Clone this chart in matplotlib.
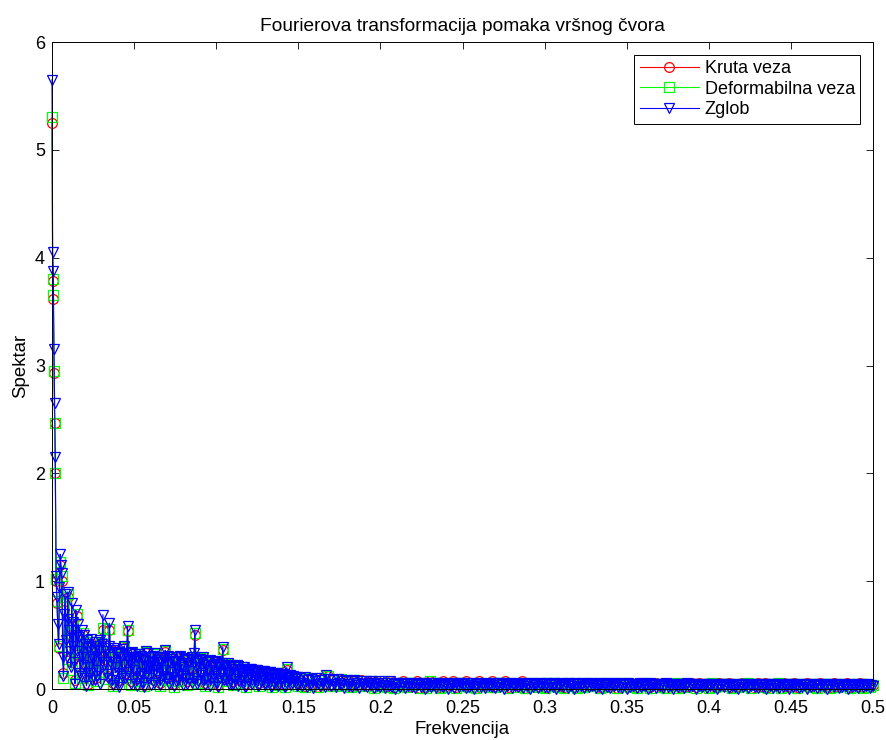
import numpy as np
import matplotlib
matplotlib.use("Agg")
import matplotlib.pyplot as plt

plt.rcParams['font.family'] = ['Liberation Sans', 'DejaVu Sans']

title = "Fourierova transformacija pomaka vršnog čvora"
xlabel = "Frekvencija"
ylabel = "Spektar"
labels = ["Kruta veza", "Deformabilna veza", "Zglob"]
xticks = [0, 0.05, 0.1, 0.15, 0.2, 0.25, 0.3, 0.35, 0.4, 0.45, 0.5]
xticklabels = ["0", "0.05", "0.1", "0.15", "0.2", "0.25", "0.3", "0.35", "0.4", "0.45", "0.5"]
yticks = [0, 1, 2, 3, 4, 5, 6]

# frequency grids (x axis)
f_spike = [0.0, 0.0004, 0.0008, 0.0012, 0.0016, 0.0020, 0.0025]
f_mid = np.linspace(0.003, 0.150, 148)
f_tail = np.linspace(0.152, 0.500, 175)
f_mid_blue = np.linspace(0.003, 0.150, 295)
f_tail_blue = np.linspace(0.151, 0.500, 350)

# spectrum values
blue_spike = [5.65, 4.05, 3.88, 3.15, 2.65, 2.15, 1.05]
red_spike = [5.25, 3.78, 3.62, 2.93, 2.47, 2.00, 1.00]
green_spike = [5.30, 3.80, 3.65, 2.95, 2.47, 2.00, 1.02]

blue_mid = [
    0.85, 0.60, 0.42, 0.95, 1.25, 1.15, 1.08, 0.30, 0.12, 0.70,
    0.88, 0.45, 0.30, 0.90, 0.65, 0.55, 0.35, 0.20, 0.80, 0.40,
    0.62, 0.25, 0.05, 0.73, 0.50, 0.35, 0.60, 0.48, 0.15, 0.12,
    0.55, 0.30, 0.22, 0.50, 0.42, 0.10, 0.03, 0.45, 0.38, 0.20,
    0.15, 0.40, 0.46, 0.08, 0.28, 0.35, 0.08, 0.44, 0.40, 0.12,
    0.18, 0.36, 0.45, 0.05, 0.30, 0.42, 0.69, 0.22, 0.25, 0.38,
    0.35, 0.14, 0.10, 0.40, 0.61, 0.25, 0.30, 0.08, 0.04, 0.36,
    0.38, 0.15, 0.20, 0.34, 0.33, 0.02, 0.06, 0.32, 0.30, 0.12,
    0.22, 0.37, 0.40, 0.10, 0.12, 0.30, 0.58, 0.16, 0.26, 0.33,
    0.05, 0.28, 0.34, 0.10, 0.18, 0.32, 0.30, 0.03, 0.08, 0.29,
    0.32, 0.12, 0.15, 0.31, 0.28, 0.06, 0.02, 0.27, 0.35, 0.14,
    0.20, 0.33, 0.10, 0.22, 0.30, 0.04, 0.24, 0.31, 0.06, 0.18,
    0.33, 0.20, 0.14, 0.30, 0.27, 0.08, 0.04, 0.25, 0.30, 0.12,
    0.18, 0.29, 0.36, 0.10, 0.09, 0.31, 0.25, 0.05, 0.16, 0.28,
    0.30, 0.11, 0.03, 0.26, 0.26, 0.07, 0.19, 0.30, 0.08, 0.14,
    0.31, 0.20, 0.22, 0.04, 0.12, 0.29, 0.28, 0.10, 0.05, 0.27,
    0.24, 0.09, 0.17, 0.28, 0.30, 0.06, 0.10, 0.33, 0.55, 0.20,
    0.26, 0.05, 0.07, 0.24, 0.28, 0.13, 0.15, 0.27, 0.30, 0.08,
    0.04, 0.22, 0.25, 0.10, 0.18, 0.26, 0.27, 0.03, 0.09, 0.21,
    0.22, 0.12, 0.14, 0.25, 0.26, 0.06, 0.02, 0.20, 0.23, 0.10,
    0.16, 0.24, 0.39, 0.08, 0.20, 0.22, 0.08, 0.15, 0.24, 0.05,
    0.13, 0.21, 0.22, 0.04, 0.05, 0.19, 0.20, 0.09, 0.15, 0.22,
    0.21, 0.03, 0.07, 0.18, 0.19, 0.10, 0.12, 0.20, 0.20, 0.02,
    0.03, 0.17, 0.18, 0.08, 0.14, 0.19, 0.19, 0.05, 0.08, 0.16,
    0.17, 0.09, 0.11, 0.18, 0.18, 0.03, 0.04, 0.15, 0.16, 0.07,
    0.12, 0.17, 0.17, 0.04, 0.06, 0.14, 0.15, 0.08, 0.10, 0.16,
    0.16, 0.02, 0.03, 0.13, 0.14, 0.06, 0.09, 0.15, 0.15, 0.03,
    0.05, 0.12, 0.13, 0.07, 0.10, 0.14, 0.14, 0.03, 0.02, 0.12,
    0.20, 0.10, 0.11, 0.13, 0.13, 0.04, 0.06, 0.11, 0.12, 0.07,
    0.09, 0.11, 0.11, 0.03, 0.04,
]
red_mid = [
    0.80, 0.38, 1.15, 1.00, 0.15, 0.82, 0.35, 0.85, 0.50, 0.25,
    0.58, 0.08, 0.68, 0.32, 0.45, 0.15, 0.50, 0.25, 0.40, 0.05,
    0.35, 0.18, 0.42, 0.25, 0.10, 0.38, 0.20, 0.42, 0.55, 0.28,
    0.32, 0.12, 0.55, 0.28, 0.06, 0.35, 0.22, 0.30, 0.08, 0.28,
    0.20, 0.38, 0.15, 0.54, 0.24, 0.07, 0.32, 0.20, 0.28, 0.10,
    0.30, 0.17, 0.26, 0.04, 0.33, 0.18, 0.12, 0.28, 0.22, 0.08,
    0.31, 0.16, 0.25, 0.06, 0.28, 0.20, 0.34, 0.11, 0.23, 0.18,
    0.28, 0.05, 0.24, 0.21, 0.10, 0.29, 0.20, 0.14, 0.26, 0.07,
    0.22, 0.19, 0.28, 0.12, 0.50, 0.24, 0.09, 0.26, 0.17, 0.28,
    0.06, 0.23, 0.20, 0.25, 0.11, 0.20, 0.16, 0.24, 0.04, 0.21,
    0.18, 0.36, 0.18, 0.10, 0.22, 0.15, 0.20, 0.07, 0.19, 0.16,
    0.19, 0.09, 0.18, 0.13, 0.19, 0.05, 0.17, 0.15, 0.18, 0.10,
    0.16, 0.12, 0.17, 0.06, 0.15, 0.13, 0.16, 0.08, 0.14, 0.11,
    0.15, 0.05, 0.13, 0.10, 0.14, 0.07, 0.12, 0.11, 0.13, 0.04,
    0.18, 0.12, 0.12, 0.08, 0.11, 0.10, 0.10, 0.06,
]
green_mid = [
    0.82, 0.40, 1.18, 1.05, 0.10, 0.85, 0.28, 0.88, 0.52, 0.18,
    0.60, 0.06, 0.70, 0.33, 0.46, 0.10, 0.52, 0.20, 0.41, 0.04,
    0.36, 0.14, 0.44, 0.26, 0.07, 0.39, 0.16, 0.43, 0.57, 0.23,
    0.33, 0.09, 0.56, 0.29, 0.03, 0.36, 0.18, 0.31, 0.05, 0.29,
    0.21, 0.39, 0.11, 0.55, 0.25, 0.04, 0.33, 0.17, 0.29, 0.07,
    0.31, 0.14, 0.27, 0.03, 0.34, 0.19, 0.09, 0.29, 0.23, 0.05,
    0.32, 0.13, 0.26, 0.03, 0.29, 0.17, 0.35, 0.08, 0.24, 0.15,
    0.29, 0.02, 0.25, 0.18, 0.07, 0.30, 0.21, 0.11, 0.27, 0.04,
    0.23, 0.16, 0.29, 0.09, 0.52, 0.25, 0.06, 0.27, 0.14, 0.29,
    0.03, 0.24, 0.17, 0.26, 0.08, 0.21, 0.13, 0.25, 0.02, 0.22,
    0.15, 0.37, 0.19, 0.07, 0.23, 0.12, 0.21, 0.04, 0.19, 0.14,
    0.20, 0.06, 0.18, 0.11, 0.19, 0.02, 0.17, 0.13, 0.18, 0.07,
    0.16, 0.10, 0.17, 0.03, 0.15, 0.11, 0.16, 0.05, 0.14, 0.09,
    0.15, 0.02, 0.13, 0.08, 0.14, 0.04, 0.12, 0.09, 0.13, 0.02,
    0.19, 0.10, 0.12, 0.05, 0.11, 0.08, 0.10, 0.03,
]

blue_tail = [
    0.10, 0.03, 0.06, 0.11, 0.02, 0.08, 0.04, 0.09, 0.01, 0.07,
    0.10, 0.05, 0.03, 0.08, 0.06, 0.02, 0.13, 0.04, 0.09, 0.03,
    0.08, 0.05, 0.02, 0.09, 0.06, 0.04, 0.07, 0.01, 0.08, 0.05,
    0.03, 0.07, 0.02, 0.08, 0.04, 0.06, 0.01, 0.07, 0.05, 0.03,
    0.07, 0.02, 0.06, 0.04, 0.07, 0.01, 0.05, 0.03, 0.07, 0.02,
    0.06, 0.04, 0.01, 0.06, 0.03, 0.07, 0.02, 0.05, 0.00, 0.06,
    0.04, 0.02, 0.06, 0.05, 0.01, 0.06, 0.03, 0.05, 0.02, 0.06,
    0.01, 0.05, 0.04, 0.06, 0.02, 0.06, 0.00, 0.05, 0.03, 0.06,
    0.02, 0.04, 0.06, 0.01, 0.05, 0.03, 0.06, 0.02, 0.04, 0.05,
    0.00, 0.06, 0.03, 0.05, 0.01, 0.06, 0.04, 0.02, 0.06, 0.03,
    0.05, 0.01, 0.06, 0.02, 0.04, 0.06, 0.00, 0.05, 0.03, 0.06,
    0.02, 0.05, 0.04, 0.01, 0.06, 0.03, 0.05, 0.02, 0.06, 0.01,
    0.04, 0.06, 0.02, 0.05, 0.00, 0.06, 0.03, 0.04, 0.06, 0.01,
    0.05, 0.03, 0.06, 0.02, 0.04, 0.05, 0.01, 0.06, 0.03, 0.05,
    0.00, 0.06, 0.02, 0.04, 0.05, 0.01, 0.06, 0.03, 0.05, 0.02,
    0.06, 0.01, 0.04, 0.05, 0.02, 0.06, 0.00, 0.05, 0.03, 0.06,
    0.02, 0.04, 0.05, 0.01, 0.06, 0.03, 0.05, 0.00, 0.06, 0.02,
    0.05, 0.03, 0.06, 0.01, 0.04, 0.05, 0.02, 0.06, 0.03, 0.04,
    0.01, 0.05, 0.03, 0.06, 0.00, 0.05, 0.04, 0.02, 0.06, 0.01,
    0.05, 0.03, 0.04, 0.06, 0.02, 0.05, 0.01, 0.04, 0.05, 0.00,
    0.06, 0.02, 0.05, 0.03, 0.04, 0.01, 0.05, 0.06, 0.02, 0.04,
    0.03, 0.05, 0.00, 0.06, 0.02, 0.04, 0.05, 0.01, 0.05, 0.03,
    0.05, 0.01, 0.04, 0.06, 0.02, 0.05, 0.03, 0.00, 0.05, 0.04,
    0.02, 0.05, 0.03, 0.05, 0.01, 0.04, 0.06, 0.02, 0.05, 0.03,
    0.04, 0.00, 0.05, 0.03, 0.05, 0.02, 0.04, 0.05, 0.01, 0.05,
    0.03, 0.05, 0.02, 0.04, 0.00, 0.05, 0.03, 0.05, 0.02, 0.04,
    0.05, 0.01, 0.05, 0.03, 0.04, 0.02, 0.05, 0.00, 0.04, 0.05,
    0.02, 0.04, 0.05, 0.01, 0.05, 0.03, 0.04, 0.02, 0.05, 0.01,
    0.04, 0.05, 0.02, 0.05, 0.00, 0.04, 0.03, 0.05, 0.01, 0.05,
    0.03, 0.04, 0.01, 0.05, 0.02, 0.05, 0.03, 0.04, 0.00, 0.05,
    0.02, 0.05, 0.03, 0.04, 0.01, 0.05, 0.02, 0.04, 0.05, 0.00,
    0.04, 0.02, 0.05, 0.03, 0.05, 0.01, 0.04, 0.03, 0.05, 0.02,
    0.05, 0.00, 0.04, 0.03, 0.05, 0.02, 0.04, 0.05, 0.01, 0.04,
    0.02, 0.05, 0.03, 0.04, 0.00, 0.05, 0.02, 0.04, 0.03, 0.05,
    0.01, 0.04, 0.05, 0.02, 0.04, 0.03, 0.05, 0.01, 0.04, 0.03,
]
red_tail = [
    0.10, 0.03, 0.10, 0.05, 0.09, 0.02, 0.09, 0.06, 0.12, 0.04,
    0.09, 0.03, 0.08, 0.05, 0.08, 0.02, 0.07, 0.04, 0.08, 0.06,
    0.03, 0.07, 0.02, 0.07, 0.04, 0.06, 0.03, 0.07, 0.02, 0.06,
    0.04, 0.07, 0.02, 0.06, 0.03, 0.07, 0.01, 0.06, 0.02, 0.07,
    0.04, 0.06, 0.02, 0.07, 0.03, 0.05, 0.07, 0.02, 0.06, 0.04,
    0.07, 0.03, 0.05, 0.01, 0.07, 0.04, 0.06, 0.02, 0.07, 0.03,
    0.06, 0.04, 0.07, 0.02, 0.05, 0.06, 0.03, 0.07, 0.01, 0.06,
    0.04, 0.06, 0.03, 0.05, 0.02, 0.06, 0.04, 0.06, 0.03, 0.06,
    0.02, 0.06, 0.04, 0.05, 0.01, 0.06, 0.03, 0.06, 0.04, 0.05,
    0.06, 0.02, 0.06, 0.03, 0.05, 0.06, 0.01, 0.06, 0.04, 0.06,
    0.03, 0.05, 0.02, 0.06, 0.04, 0.06, 0.02, 0.05, 0.06, 0.03,
    0.06, 0.01, 0.05, 0.04, 0.06, 0.02, 0.06, 0.03, 0.05, 0.06,
    0.02, 0.06, 0.04, 0.05, 0.01, 0.06, 0.03, 0.06, 0.04, 0.05,
    0.06, 0.02, 0.05, 0.03, 0.06, 0.04, 0.06, 0.01, 0.05, 0.06,
    0.03, 0.06, 0.02, 0.05, 0.04, 0.06, 0.01, 0.06, 0.03, 0.05,
    0.06, 0.02, 0.05, 0.04, 0.06, 0.03, 0.05, 0.01, 0.06, 0.04,
    0.05, 0.02, 0.06, 0.03, 0.05, 0.04, 0.06, 0.02, 0.05, 0.03,
    0.06, 0.02, 0.05, 0.03, 0.04,
]
green_tail = [
    0.09, 0.02, 0.10, 0.04, 0.08, 0.02, 0.10, 0.05, 0.12, 0.03,
    0.08, 0.03, 0.09, 0.04, 0.07, 0.02, 0.08, 0.03, 0.07, 0.05,
    0.03, 0.07, 0.01, 0.06, 0.03, 0.07, 0.02, 0.06, 0.01, 0.06,
    0.03, 0.06, 0.02, 0.06, 0.04, 0.06, 0.01, 0.05, 0.01, 0.07,
    0.03, 0.06, 0.01, 0.06, 0.02, 0.05, 0.06, 0.01, 0.06, 0.03,
    0.06, 0.02, 0.05, 0.01, 0.06, 0.03, 0.05, 0.02, 0.06, 0.02,
    0.06, 0.03, 0.06, 0.01, 0.05, 0.05, 0.02, 0.06, 0.01, 0.05,
    0.03, 0.06, 0.02, 0.05, 0.01, 0.06, 0.03, 0.06, 0.02, 0.05,
    0.01, 0.06, 0.03, 0.05, 0.01, 0.05, 0.02, 0.06, 0.03, 0.05,
    0.05, 0.01, 0.06, 0.02, 0.05, 0.05, 0.01, 0.06, 0.03, 0.06,
    0.02, 0.05, 0.01, 0.05, 0.03, 0.06, 0.01, 0.05, 0.05, 0.02,
    0.05, 0.01, 0.05, 0.03, 0.06, 0.01, 0.05, 0.02, 0.05, 0.05,
    0.01, 0.05, 0.03, 0.05, 0.01, 0.06, 0.02, 0.05, 0.03, 0.05,
    0.05, 0.01, 0.05, 0.02, 0.05, 0.03, 0.06, 0.01, 0.05, 0.05,
    0.02, 0.05, 0.01, 0.05, 0.03, 0.06, 0.01, 0.05, 0.02, 0.05,
    0.05, 0.01, 0.05, 0.03, 0.05, 0.02, 0.05, 0.01, 0.05, 0.03,
    0.05, 0.01, 0.05, 0.02, 0.05, 0.03, 0.05, 0.01, 0.05, 0.02,
    0.05, 0.01, 0.05, 0.02, 0.04,
]

freq_rg = np.concatenate([f_spike, f_mid, f_tail])
freq_b = np.concatenate([f_spike, f_mid_blue, f_tail_blue])
red = np.concatenate([red_spike, red_mid, red_tail])
green = np.concatenate([green_spike, green_mid, green_tail])
blue = np.concatenate([blue_spike, blue_mid, blue_tail])

fig = plt.figure(figsize=(8.86, 7.40), dpi=100)
ax = fig.add_axes([52/886, 1-689/740, (873-52)/886, (689-42)/740])

series = [(freq_rg, red, '#ff0000', 'o'),
          (freq_rg, green, '#00ff00', 's'),
          (freq_b, blue, '#0000ff', 'v')]
for (fx, vals, col, mk), lab in zip(series, labels):
    ax.plot(fx, vals, color=col, lw=0.8, marker=mk, markersize=7,
            markerfacecolor='none', markeredgecolor=col, markeredgewidth=0.9,
            label=lab, clip_on=False)

ax.set_xlim(0, 0.5)
ax.set_ylim(0, 6)
ax.set_xticks(xticks)
ax.set_xticklabels(xticklabels)
ax.set_yticks(yticks)
ax.tick_params(direction='in', top=True, right=True, length=5, width=0.6,
               labelsize=13)
ax.tick_params(axis='x', pad=8)
ax.tick_params(axis='y', pad=5)
for s in ax.spines.values():
    s.set_linewidth(0.7)
    s.set_zorder(5)

ax.set_title(title, fontsize=13.8, pad=8)
ax.set_xlabel(xlabel, fontsize=13.4, labelpad=3)
ax.set_ylabel(ylabel, fontsize=13.4, labelpad=4)

leg = ax.legend(loc='upper right', fontsize=13, fancybox=False, framealpha=1,
                edgecolor='black', handlelength=3.3, handletextpad=0.3,
                borderpad=0.3, labelspacing=0.2, borderaxespad=0.7)
leg.get_frame().set_linewidth(0.7)

fig.savefig("out.png", dpi=100)
